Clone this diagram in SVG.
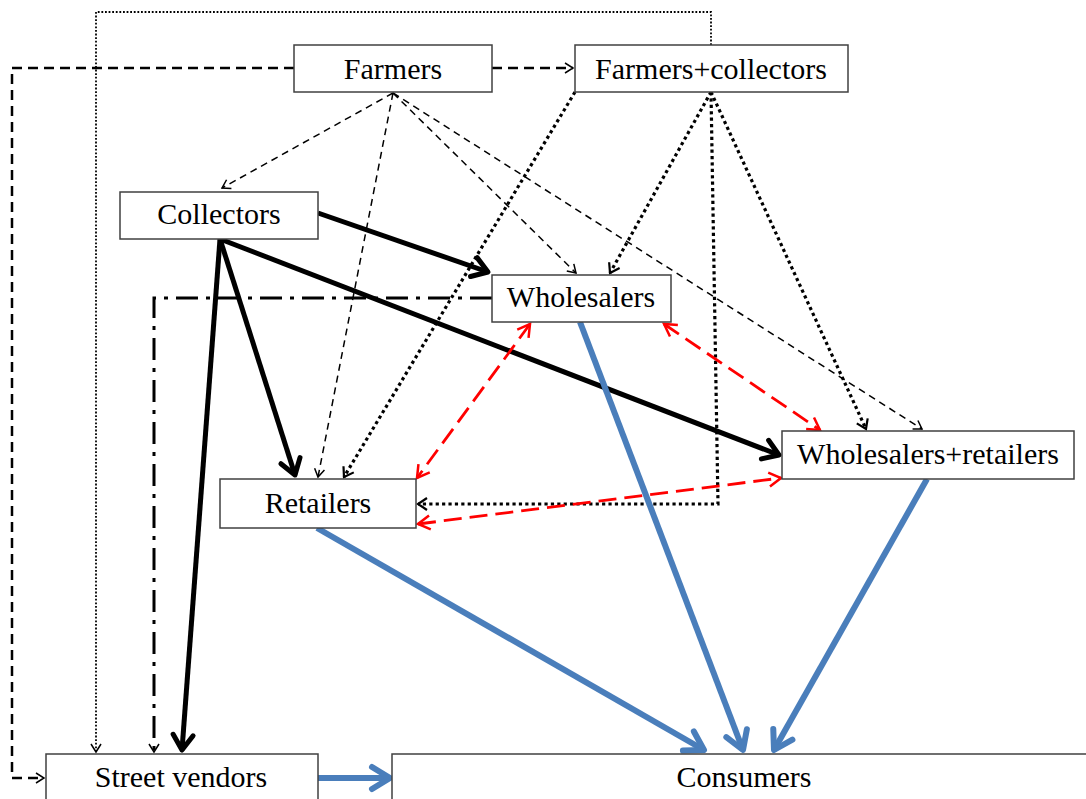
<svg xmlns="http://www.w3.org/2000/svg" width="1086" height="799" viewBox="0 0 1086 799">
<style>
.box{fill:#fff;stroke:#404040;stroke-width:1.5}
.lbl{font-family:"Liberation Serif","Times New Roman",serif;font-size:30px;fill:#000;text-anchor:middle}
.dash{fill:none;stroke:#000;stroke-width:1.5;stroke-dasharray:7 5}
.dash2{fill:none;stroke:#000;stroke-width:2.5;stroke-dasharray:10 6}
.dotthin{fill:none;stroke:#000;stroke-width:1.8;stroke-dasharray:1.8 1.8}
.dotthick{fill:none;stroke:#000;stroke-width:3.2;stroke-dasharray:3.2 3.2}
.thick{fill:none;stroke:#000;stroke-width:5}
.dashdot{fill:none;stroke:#000;stroke-width:3;stroke-dasharray:22 8 4 8}
.blue{fill:none;stroke:#4A7EBB;stroke-width:6}
.red{fill:none;stroke:#FF0000;stroke-width:2.8;stroke-dasharray:18 8}
</style>
<defs>
<marker id="aS" markerUnits="userSpaceOnUse" markerWidth="20" markerHeight="20" refX="0" refY="0" viewBox="-10 -10 20 20" orient="auto" overflow="visible">
<path d="M-8,-5 L0,0 L-8,5" fill="none" stroke="#000" stroke-width="1.5"/>
</marker>
<marker id="aD" markerUnits="userSpaceOnUse" markerWidth="20" markerHeight="20" refX="0" refY="0" viewBox="-10 -10 20 20" orient="auto" overflow="visible">
<path d="M-9,-6 L0,0 L-9,6" fill="none" stroke="#000" stroke-width="2.2"/>
</marker>
<marker id="aB" markerUnits="userSpaceOnUse" markerWidth="40" markerHeight="40" refX="0" refY="0" viewBox="-20 -20 40 40" orient="auto" overflow="visible">
<path d="M-15,-10 L0,0 L-15,10" fill="none" stroke="#000" stroke-width="5" stroke-linecap="round" stroke-linejoin="round"/>
</marker>
<marker id="aBl" markerUnits="userSpaceOnUse" markerWidth="40" markerHeight="40" refX="0" refY="0" viewBox="-20 -20 40 40" orient="auto" overflow="visible">
<path d="M-18,-11 L0,0 L-18,11" fill="none" stroke="#4A7EBB" stroke-width="6" stroke-linecap="round" stroke-linejoin="round"/>
</marker>
<marker id="aR" markerUnits="userSpaceOnUse" markerWidth="30" markerHeight="30" refX="0" refY="0" viewBox="-15 -15 30 30" orient="auto-start-reverse" overflow="visible">
<path d="M-12,-7 L0,0 L-12,7" fill="none" stroke="#FF0000" stroke-width="2.5"/>
</marker>
</defs>

<g id="connectors">
<path class="dash2" d="M492,68 L573,68" marker-end="url(#aS)"/>
<path class="dash2" d="M294,68 L12,68 L12,778 L44,778" marker-end="url(#aS)"/>
<path class="dotthin" d="M711,45 L711,12 L96,12 L96,752" marker-end="url(#aS)"/>
<path class="dash" d="M393,93 L222,188" marker-end="url(#aS)"/>
<path class="dash" d="M393,93 L318,477" marker-end="url(#aS)"/>
<path class="dash" d="M393,93 L576,273" marker-end="url(#aS)"/>
<path class="dash" d="M393,93 L922,429" marker-end="url(#aS)"/>
<path class="dotthick" d="M575,92 L344,477" marker-end="url(#aD)"/>
<path class="dotthick" d="M711,92 L610,273" marker-end="url(#aD)"/>
<path class="dotthick" d="M711,92 L866,429" marker-end="url(#aD)"/>
<path class="dotthick" d="M711,92 L718,504 L418,504" marker-end="url(#aD)"/>
<path class="thick" d="M318,213 L488,272" marker-end="url(#aB)"/>
<path class="thick" d="M220,239 L779,455" marker-end="url(#aB)"/>
<path class="thick" d="M220,239 L295,475" marker-end="url(#aB)"/>
<path class="thick" d="M220,239 L182,750" marker-end="url(#aB)"/>
<path class="dashdot" d="M492,298 L154,298 L154,752" marker-end="url(#aS)"/>
<path class="blue" d="M580,322 L743,750" marker-end="url(#aBl)"/>
<path class="blue" d="M927,479 L774,750" marker-end="url(#aBl)"/>
<path class="blue" d="M317,528 L704,750" marker-end="url(#aBl)"/>
<path class="blue" d="M318,778 L390,778" marker-end="url(#aBl)"/>
<path class="red" d="M530,324 L417,478" marker-start="url(#aR)" marker-end="url(#aR)"/>
<path class="red" d="M664,324 L820,430" marker-start="url(#aR)" marker-end="url(#aR)"/>
<path class="red" d="M418,524 L781,478" marker-start="url(#aR)" marker-end="url(#aR)"/>
</g>

<g id="farmers"><rect class="box" x="294" y="45" width="198" height="47"/><text class="lbl" x="393" y="79">Farmers</text></g>
<g id="farmers-collectors"><rect class="box" x="575" y="45" width="273" height="47"/><text class="lbl" x="711" y="79">Farmers+collectors</text></g>
<g id="collectors"><rect class="box" x="120" y="192" width="198" height="47"/><text class="lbl" x="219" y="224">Collectors</text></g>
<g id="wholesalers"><rect class="box" x="492" y="275" width="179" height="47"/><text class="lbl" x="581" y="307">Wholesalers</text></g>
<g id="wholesalers-retailers"><rect class="box" x="782" y="431" width="292" height="48"/><text class="lbl" x="928" y="464">Wholesalers+retailers</text></g>
<g id="retailers"><rect class="box" x="220" y="479" width="196" height="49"/><text class="lbl" x="318" y="513">Retailers</text></g>
<g id="street-vendors"><rect class="box" x="46" y="754" width="272" height="60"/><text class="lbl" x="181" y="787">Street vendors</text></g>
<g id="consumers"><rect class="box" x="392" y="754" width="710" height="60"/><text class="lbl" x="744" y="787">Consumers</text></g>
</svg>
